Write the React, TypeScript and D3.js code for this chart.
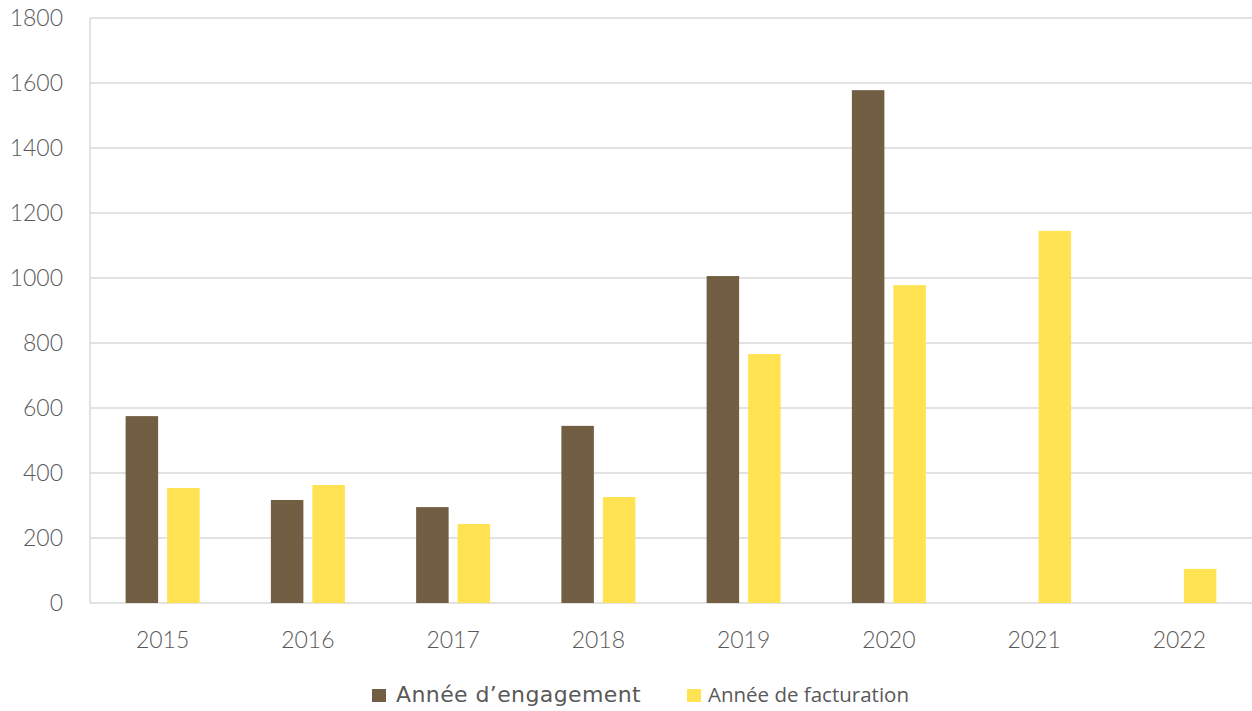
import React, { useRef, useEffect } from 'react';
import * as d3 from 'd3';

const years = ['2015', '2016', '2017', '2018', '2019', '2020', '2021', '2022'];
const engagement = [575, 317, 295, 545, 1006, 1578, 0, 0];
const facturation = [354, 363, 243, 326, 766, 978, 1145, 105];
const yTicks = [0, 200, 400, 600, 800, 1000, 1200, 1400, 1600, 1800];
const seriesNames = ['Année d\u2019engagement', 'Année de facturation'];
const colors = ['#725F43', '#FFE352'];

const App: React.FC = () => {
    const svgRef = useRef<SVGSVGElement | null>(null);

    useEffect(() => {
        if (!svgRef.current) return;
        const svg = d3.select(svgRef.current);
        svg.selectAll('*').remove();

        const left = 90;
        const right = 1252;
        const top = 18;
        const bottom = 603;
        const font = 'Lato, "Open Sans", sans-serif';

        const x = d3.scaleBand<string>().domain(years).range([left, right]).paddingInner(0).paddingOuter(0);
        const y = d3.scaleLinear().domain([0, 1800]).range([bottom, top]);
        const barW = 32.5;
        const gap = 9;

        // grid
        svg.append('g')
            .selectAll('line')
            .data(yTicks)
            .join('line')
            .attr('x1', left)
            .attr('x2', right)
            .attr('y1', (d) => y(d))
            .attr('y2', (d) => y(d))
            .attr('stroke', '#d9d9d9')
            .attr('stroke-width', 1.5);

        svg.append('line')
            .attr('x1', left).attr('x2', left)
            .attr('y1', top).attr('y2', bottom)
            .attr('stroke', '#d9d9d9').attr('stroke-width', 1.5);

        // y labels
        svg.append('g')
            .selectAll('text')
            .data(yTicks)
            .join('text')
            .attr('x', 63)
            .attr('y', (d) => y(d) + 8)
            .attr('text-anchor', 'end')
            .attr('font-family', font)
            .attr('font-weight', 300)
            .attr('font-size', 23)
            .attr('fill', '#595959')
            .text((d) => d);

        // bars
        const groups = [engagement, facturation];
        groups.forEach((vals, si) => {
            svg.append('g')
                .selectAll('rect')
                .data(vals.map((v, i) => ({ v, yr: years[i] })).filter((d) => d.v > 0))
                .join('rect')
                .attr('x', (d) => (x(d.yr) as number) + x.bandwidth() / 2 + (si === 0 ? -gap / 2 - barW : gap / 2))
                .attr('y', (d) => y(d.v))
                .attr('width', barW)
                .attr('height', (d) => bottom - y(d.v))
                .attr('fill', colors[si]);
        });

        // x labels
        svg.append('g')
            .selectAll('text')
            .data(years)
            .join('text')
            .attr('x', (d) => (x(d) as number) + x.bandwidth() / 2)
            .attr('y', 648)
            .attr('text-anchor', 'middle')
            .attr('font-family', font)
            .attr('font-weight', 300)
            .attr('font-size', 23)
            .attr('fill', '#595959')
            .text((d) => d);

        // legend
        const leg = svg.append('g');
        leg.append('rect').attr('x', 372).attr('y', 689).attr('width', 14).attr('height', 13).attr('fill', colors[0]);
        leg.append('text').attr('x', 396).attr('y', 702)
            .attr('font-family', '"DejaVu Sans", sans-serif').attr('font-size', 22)
            .attr('letter-spacing', 0.4)
            .attr('fill', '#595959').text(seriesNames[0]);
        leg.append('rect').attr('x', 687).attr('y', 689).attr('width', 14).attr('height', 13).attr('fill', colors[1]);
        leg.append('text').attr('x', 708).attr('y', 702)
            .attr('font-family', '"Open Sans", sans-serif').attr('font-size', 20.5).attr('fill', '#595959').text(seriesNames[1]);
    }, []);

    return (
        <div style={{ position: 'absolute', left: 0, top: 0 }}>
            <svg ref={svgRef} width={1252} height={711} style={{ display: 'block' }} />
        </div>
    );
};

export default App;
